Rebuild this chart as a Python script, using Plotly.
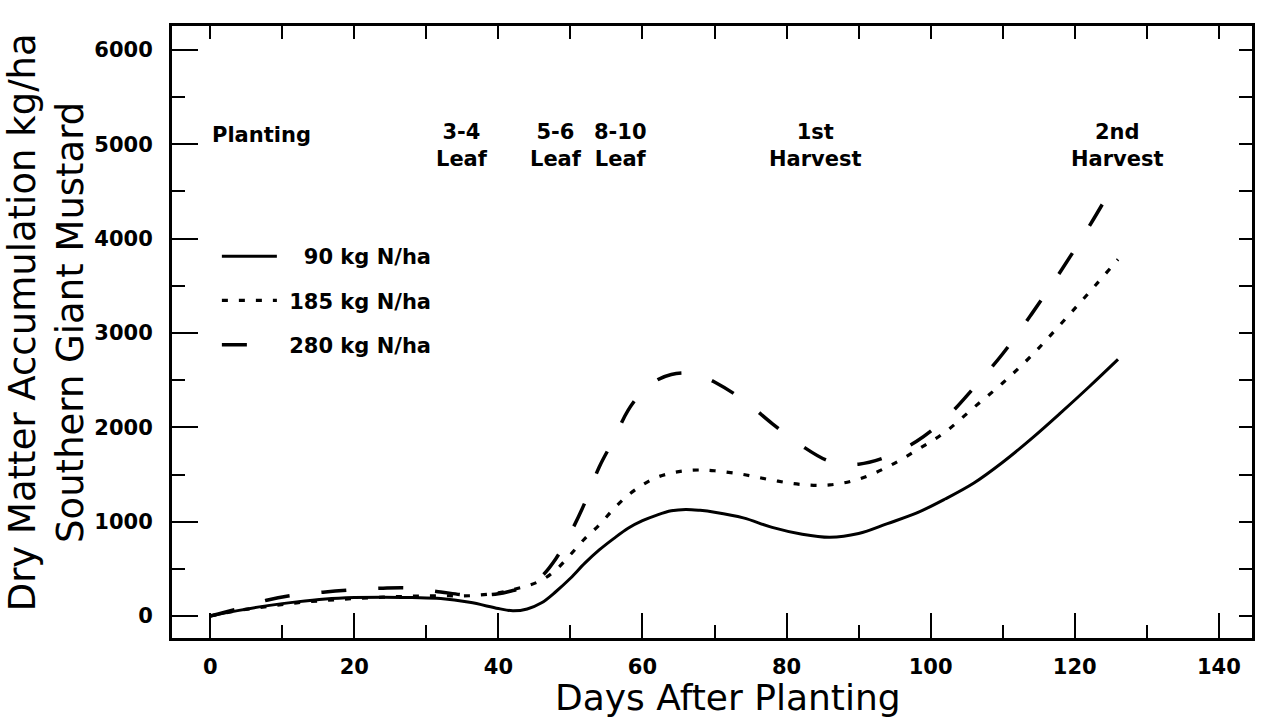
import plotly.graph_objects as go

days = [0, 4, 8, 12, 16, 20, 24, 28, 32, 36, 40, 42, 44, 46, 48, 50, 52, 54, 56, 58,
        60, 62, 64, 66, 68, 70, 74, 78, 82, 86, 90, 94, 98, 102, 106, 110, 114, 118, 122, 126]

n90 = [0, 60, 110, 150, 180, 195, 200, 195, 185, 145, 80, 55, 75, 140, 260, 400, 560, 700, 820, 930,
       1010, 1070, 1115, 1130, 1120, 1100, 1040, 940, 870, 835, 875, 980, 1090, 1240, 1410, 1630, 1880, 2150, 2430, 2720]

n185 = [0, 60, 100, 140, 165, 185, 200, 210, 215, 215, 245, 280, 320, 380, 490, 650, 820, 965, 1135, 1280,
        1390, 1470, 1515, 1540, 1548, 1540, 1500, 1440, 1395, 1390, 1450, 1580, 1755, 1950, 2210, 2470, 2760, 3090, 3430, 3780]

n280 = [0, 80, 170, 225, 255, 280, 295, 295, 255, 220, 235, 270, 310, 420, 610, 880, 1200, 1580, 1870, 2180,
        2380, 2500, 2560, 2575, 2550, 2480, 2290, 2040, 1810, 1640, 1610, 1690, 1850, 2090, 2420, 2780, 3200, 3650, 4130, 4650]

series_names = ["90 kg N/ha", "185 kg N/ha", "280 kg N/ha"]
legend_pad = ["\u00a0\u2007", "\u00a0", "\u00a0"]
series_values = [n90, n185, n280]
series_dash = ["solid", "6px,11px", "25px,32px"]
series_width = [3, 3.2, 3.5]

event_labels = ["3-4<br>Leaf", "5-6<br>Leaf", "8-10<br>Leaf", "1st<br>Harvest", "2nd<br>Harvest"]
event_days = [35, 48, 57, 84, 126]
planting_label = "Planting"

x_ticks = [0, 20, 40, 60, 80, 100, 120, 140]
y_ticks = [0, 1000, 2000, 3000, 4000, 5000, 6000]

FONT = "DejaVu Sans"


def bold(size):
    return dict(family=FONT, size=size, weight="bold", color="black")


def regular(size):
    return dict(family=FONT, size=size, weight="normal", color="black")


fig = go.Figure()
for i, (name, vals) in enumerate(zip(series_names, series_values)):
    fig.add_trace(go.Scatter(
        x=days, y=vals, mode="lines", name=legend_pad[i] + name,
        line=dict(color="black", width=series_width[i], dash=series_dash[i], shape="spline", smoothing=1.0),
        legendgroup=name,
    ))

xr = [-5.3, 144.6]
yr = [-233, 6254]

fig.update_layout(
    width=1265, height=724,
    margin=dict(l=172, r=10, t=26, b=86),
    paper_bgcolor="white", plot_bgcolor="white",
    font=bold(21),
    xaxis=dict(range=xr, tickvals=x_ticks, ticks="inside", ticklen=25, tickwidth=2, tickcolor="black",
               minor=dict(dtick=10, tick0=0, ticks="inside", ticklen=13, tickwidth=2, tickcolor="black"),
               showline=True, linewidth=3, linecolor="black", mirror=True,
               showgrid=False, zeroline=False, ticklabelstandoff=8,
               tickfont=bold(21)),
    yaxis=dict(range=yr, tickvals=y_ticks, ticks="inside", ticklen=26, tickwidth=2, tickcolor="black",
               minor=dict(dtick=500, tick0=0, ticks="inside", ticklen=13, tickwidth=2, tickcolor="black"),
               showline=True, linewidth=3, linecolor="black", mirror=True,
               showgrid=False, zeroline=False, ticklabelstandoff=12,
               tickfont=bold(21)),
    xaxis2=dict(range=xr, overlaying="x", side="top", anchor="y", dtick=10, tick0=0, ticks="inside",
                ticklen=13, tickwidth=2, tickcolor="black", showticklabels=False, showgrid=False,
                zeroline=False, showline=False),
    yaxis2=dict(range=yr, overlaying="y", side="right", anchor="x", dtick=500, tick0=0, ticks="inside",
                ticklen=13, tickwidth=2, tickcolor="black", showticklabels=False, showgrid=False,
                zeroline=False, showline=False),
    showlegend=True,
    legend=dict(x=(217 - 172) / 1083, y=(638 - 236) / 612, xanchor="left", yanchor="top",
                bgcolor="rgba(0,0,0,0)", borderwidth=0, font=bold(21),
                itemwidth=55, tracegroupgap=14, traceorder="grouped"),
)

# invisible trace to bind secondary axes
fig.add_trace(go.Scatter(x=[days[0]], y=[n90[0]], xaxis="x2", yaxis="y2", mode="markers",
                         marker=dict(opacity=0), showlegend=False, hoverinfo="skip"))

fig.add_annotation(x=0, y=5100, xref="x", yref="y", text=planting_label, showarrow=False,
                   xanchor="left", yanchor="middle", font=bold(21))
for lab, d in zip(event_labels, event_days):
    fig.add_annotation(x=d, y=4985, xref="x", yref="y", text=lab, showarrow=False,
                       xanchor="center", yanchor="middle", align="center",
                       font=bold(21))

fig.add_annotation(x=(730 - 172) / 1083, y=(638 - 697) / 612, xref="paper", yref="paper",
                   text="Days After Planting", showarrow=False, xanchor="center", yanchor="middle",
                   font=regular(36))
fig.add_annotation(x=(47 - 172) / 1083, y=(638 - 322) / 612, xref="paper", yref="paper",
                   text="Dry Matter Accumulation kg/ha<br>Southern Giant Mustard", showarrow=False,
                   textangle=-90, xanchor="center", yanchor="middle", align="center",
                   font=regular(37))

fig.write_html("out.html")
